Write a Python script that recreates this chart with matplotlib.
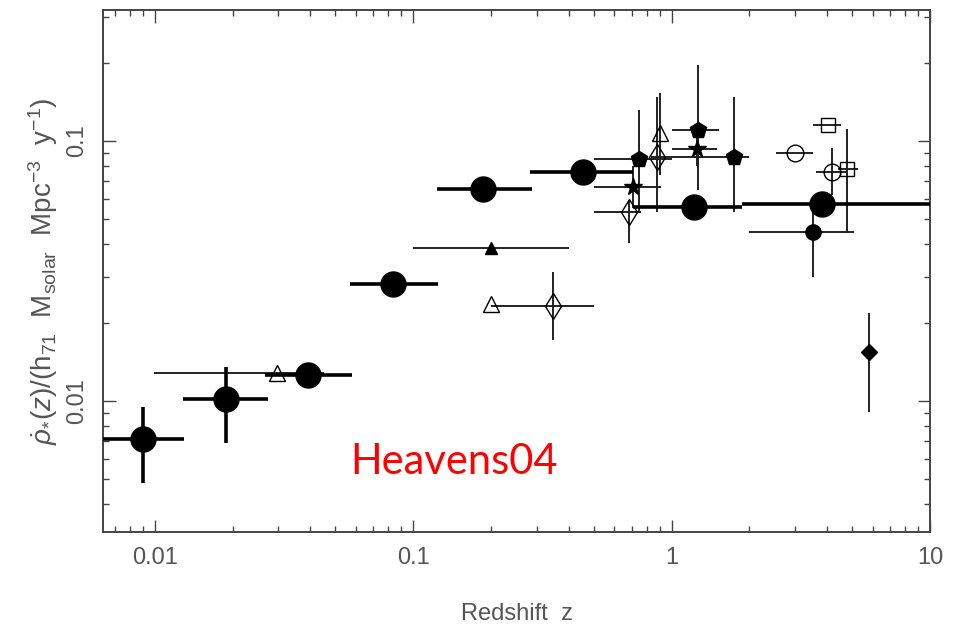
import matplotlib
matplotlib.use('Agg')
import matplotlib.pyplot as plt
from matplotlib import ticker
import numpy as np

plt.rcParams['font.family'] = ['Liberation Sans', 'DejaVu Sans']
plt.rcParams['mathtext.fontset'] = 'custom'
plt.rcParams['mathtext.rm'] = 'Liberation Sans'
plt.rcParams['mathtext.it'] = 'Liberation Sans:italic'

# Heavens04 (big filled circles, thick bars)
h_z = [0.009, 0.0188, 0.0392, 0.0836, 0.187, 0.456, 1.22, 3.81]
h_sfr = [0.00714, 0.0102, 0.0126, 0.0282, 0.0654, 0.076, 0.0557, 0.0573]
h_zlo = [0.006, 0.01285, 0.0267, 0.057, 0.124, 0.284, 0.706, 1.88]
h_zhi = [0.01295, 0.0274, 0.058, 0.125, 0.289, 0.706, 1.88, 12.0]
h_lo = [0.00484, 0.00689, 0.0126, 0.0282, 0.0654, 0.076, 0.0557, 0.0573]
h_hi = [0.00948, 0.0135, 0.0126, 0.0282, 0.0654, 0.076, 0.0557, 0.0573]

# other compilations
pent_z = [0.751, 1.26, 1.75]
pent_sfr = [0.0853, 0.110, 0.0868]
pent_zlo = [0.5, 1.0, 1.0]
pent_zhi = [1.0, 1.52, 2.0]
pent_lo = [0.0533, 0.0649, 0.0533]
pent_hi = [0.1316, 0.196, 0.1476]

star_z = [0.706, 1.25]
star_sfr = [0.0665, 0.0931]
star_zlo = [0.5, 1.0]
star_zhi = [0.906, 1.5]
star_lo = [0.055, 0.08]
star_hi = [0.08, 0.11]

odia_z = [0.875, 0.681, 0.349]
odia_sfr = [0.0868, 0.0533, 0.0232]
odia_zlo = [0.83, 0.5, 0.2]
odia_zhi = [1.01, 0.758, 0.499]
odia_lo = [0.0533, 0.0405, 0.0172]
odia_hi = [0.1476, 0.0593, 0.0313]

otri_z = [0.899, 0.2, 0.0297]
otri_sfr = [0.1074, 0.0236, 0.0128]
otri_zlo = [0.899, 0.2, 0.0099]
otri_zhi = [0.899, 0.2, 0.045]
otri_lo = [0.074, 0.0236, 0.0128]
otri_hi = [0.153, 0.0236, 0.0128]

ftri_z = [0.2]
ftri_sfr = [0.0388]
ftri_zlo = [0.1]
ftri_zhi = [0.4]
ftri_lo = [0.0388]
ftri_hi = [0.0388]

fcir_z = [3.52]
fcir_sfr = [0.0447]
fcir_zlo = [1.99]
fcir_zhi = [5.07]
fcir_lo = [0.030]
fcir_hi = [0.0577]

ocir_z = [3.0, 4.17]
ocir_sfr = [0.0899, 0.076]
ocir_zlo = [2.53, 3.61]
ocir_zhi = [3.52, 4.72]
ocir_lo = [0.0899, 0.062]
ocir_hi = [0.0899, 0.094]

osq_z = [4.02, 4.77]
osq_sfr = [0.115, 0.078]
osq_zlo = [3.52, 4.4]
osq_zhi = [4.52, 5.26]
osq_lo = [0.115, 0.0443]
osq_hi = [0.115, 0.111]

fdia_z = [5.8]
fdia_sfr = [0.0154]
fdia_zlo = [5.8]
fdia_zhi = [5.8]
fdia_lo = [0.00908]
fdia_hi = [0.0218]


def punkte(z, sfr, zlo, zhi, lo, hi, marker, ms, filled=True, lw=1.4, color='#222222'):
    z = np.array(z)
    sfr = np.array(sfr)
    xerr = [z - np.array(zlo), np.array(zhi) - z]
    yerr = [sfr - np.array(lo), np.array(hi) - sfr]
    if filled:
        mfc = 'black'
    else:
        mfc = 'none'
    plt.errorbar(z, sfr, xerr=xerr, yerr=yerr, fmt=marker, ms=ms, mfc=mfc,
                 mec='black', mew=1.0, ecolor=color, elinewidth=lw, capsize=0,
                 zorder=3)


fig = plt.figure(figsize=(9.59, 6.26), dpi=100)
ax = fig.add_axes([103/959, 1 - 532/626, 827/959, 522/626])

punkte(odia_z, odia_sfr, odia_zlo, odia_zhi, odia_lo, odia_hi, 'd', 13, filled=False)
punkte(otri_z, otri_sfr, otri_zlo, otri_zhi, otri_lo, otri_hi, '^', 11, filled=False)
punkte(ftri_z, ftri_sfr, ftri_zlo, ftri_zhi, ftri_lo, ftri_hi, '^', 9)
punkte(pent_z, pent_sfr, pent_zlo, pent_zhi, pent_lo, pent_hi, 'p', 12)
punkte(star_z, star_sfr, star_zlo, star_zhi, star_lo, star_hi, '*', 13)
punkte(fcir_z, fcir_sfr, fcir_zlo, fcir_zhi, fcir_lo, fcir_hi, 'o', 11)
punkte(ocir_z, ocir_sfr, ocir_zlo, ocir_zhi, ocir_lo, ocir_hi, 'o', 12, filled=False)
punkte(osq_z, osq_sfr, osq_zlo, osq_zhi, osq_lo, osq_hi, 's', 10, filled=False)
punkte(fdia_z, fdia_sfr, fdia_zlo, fdia_zhi, fdia_lo, fdia_hi, 'D', 8)
punkte(h_z, h_sfr, h_zlo, h_zhi, h_lo, h_hi, 'o', 18, lw=2.6, color='black')

ax.set_xscale('log')
ax.set_yscale('log')
ax.set_xlim(0.0063, 10)
ax.set_ylim(0.00313, 0.319)

ax.xaxis.set_major_formatter(ticker.FuncFormatter(lambda v, p: '%g' % v))
ax.yaxis.set_major_formatter(ticker.FuncFormatter(lambda v, p: '%g' % v))
ax.tick_params(which='both', direction='in', top=True, right=True, colors='#444444',
               labelsize=17, labelcolor='#555555')
ax.tick_params(which='major', length=9, width=1.0)
ax.tick_params(which='minor', length=4.5, width=1.0)
ax.tick_params(axis='x', pad=11)
ax.tick_params(axis='y', pad=11)
for lab in ax.get_yticklabels():
    lab.set_rotation(90)
    lab.set_va('center')
for s in ax.spines.values():
    s.set_color('#444444')
    s.set_linewidth(1.4)

ax.set_xlabel('Redshift  z', fontsize=17, color='#555555', labelpad=24)
ax.set_ylabel(r'$\dot{\rho}_{*}(z)/(\mathrm{h}_{71}\ \ \mathrm{M}_{\mathrm{solar}}\ \ \mathrm{Mpc}^{-3}\ \ \mathrm{y}^{-1})$',
              fontsize=20, color='#555555', labelpad=4)

ax.text(0.425, 0.134, 'Heavens04', transform=ax.transAxes, color='red',
        fontsize=30, family='Lato', ha='center', va='center')

plt.savefig('out.png', dpi=100)
